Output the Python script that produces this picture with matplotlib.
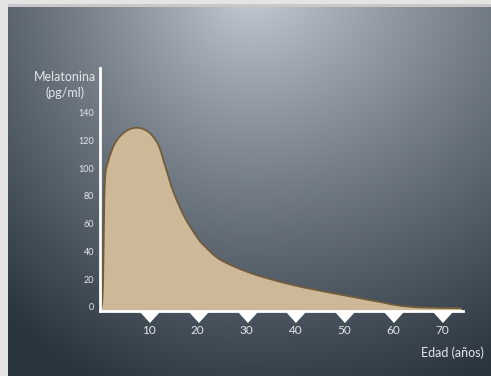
import numpy as np
import matplotlib
matplotlib.use("Agg")
from matplotlib import pyplot as plt
from matplotlib import transforms
from matplotlib.path import Path
from matplotlib.patches import PathPatch

# Curve: age (years) vs melatonin (pg/ml)
edad = [0, 0.5, 0.7, 1.0, 1.7, 3.1, 5.1, 7.5, 9.9, 11.9, 13.3, 15.0, 17.4,
        20.1, 21.5, 24.6, 30.7, 38.9, 47.7, 57.3, 61.4, 66.0, 74.0]
melatonina = [0, 8, 38, 93, 108, 121, 129, 132, 129, 120, 105, 86, 67,
              52, 46.5, 37, 27.5, 19.2, 12.8, 6.5, 3.8, 2.5, 2.0]
y_ticks = [0, 20, 40, 60, 80, 100, 120, 140]
x_ticks = [10, 20, 30, 40, 50, 60, 70]

W, H = 491, 376
fig = plt.figure(figsize=(W / 100, H / 100), dpi=100)

# background: light frame on top/left, slate panel with elliptical gradient
yy, xx = np.mgrid[0:H, 0:W]
cx = 250
rx = np.where(xx < cx, 380.0, 500.0)
d = np.sqrt(((xx - cx) / rx) ** 2 + ((yy + 20) / 440.0) ** 2)
t = np.clip(d, 0, 1.0) ** 0.8
light = np.array([205, 214, 222]) / 255.0
dark = np.array([42, 52, 63]) / 255.0
img = light[None, None, :] * (1 - t[..., None]) + dark[None, None, :] * t[..., None]
frame = np.array([228, 228, 228]) / 255.0
img[:7, :, :] = np.array([200, 200, 200]) / 255.0
img[:4, :, :] = frame
img[:, :8, :] = frame
bg = fig.add_axes([0, 0, 1, 1])
bg.imshow(img, aspect="auto", interpolation="bilinear")
bg.axis("off")

ax = fig.add_axes([100 / W, (H - 311) / H, 363 / W, 243 / H])
ax.patch.set_alpha(0)
ax.set_xlim(0, 74.3)
ax.set_ylim(0, 175)

# smooth curve through the read points (Catmull-Rom drawn as cubic Beziers)
pts = ax.transData.transform(np.column_stack([edad, melatonina]))
verts = [pts[0]]
codes = [Path.MOVETO]
n = len(pts)
for i in range(n - 1):
    p0 = pts[max(i - 1, 0)]
    p1 = pts[i]
    p2 = pts[i + 1]
    p3 = pts[min(i + 2, n - 1)]
    verts += [p1 + (p2 - p0) / 6.0, p2 - (p3 - p1) / 6.0, p2]
    codes += [Path.CURVE4] * 3
line_path = Path(verts, codes)
base = ax.transData.transform([(edad[-1], 0), (edad[0], 0)])
fill_path = Path(list(verts) + [base[0], base[1], verts[0]],
                 codes + [Path.LINETO, Path.LINETO, Path.CLOSEPOLY])
ax.add_patch(PathPatch(fill_path, transform=None, fc="#cdb898", ec="none", zorder=2))
ax.add_patch(PathPatch(line_path, transform=None, fc="none", ec="#715c3c",
                       lw=1.3, zorder=3))

for s in ["top", "right"]:
    ax.spines[s].set_visible(False)
for s in ["left", "bottom"]:
    ax.spines[s].set_color("white")
    ax.spines[s].set_linewidth(2)
    ax.spines[s].set_zorder(4)

tri = [(-10, 0), (10, 0), (0, -11)]
ax.plot(x_ticks, [0] * len(x_ticks), ls="none", marker=tri, ms=15.8,
        color="white", mec="white", clip_on=False, zorder=5)

font = "Lato"
txt = "#e2e7eb"
ax.set_yticks(y_ticks)
ax.set_yticklabels([str(v) for v in y_ticks])
ax.set_xticks(x_ticks)
ax.set_xticklabels([str(v) for v in x_ticks])
ax.tick_params(axis="y", length=0, pad=4, labelsize=6.5, labelcolor=txt)
ax.tick_params(axis="x", length=0, pad=10, labelsize=8.5, labelcolor=txt)
shift = transforms.ScaledTranslation(0, 4 / 100, fig.dpi_scale_trans)
for lab in ax.get_yticklabels():
    lab.set_transform(lab.get_transform() + shift)
    lab.set_fontfamily(font)
for lab in ax.get_xticklabels():
    lab.set_fontfamily(font)

fig.text(65 / W, 1 - 77 / H, "Melatonina", ha="center", va="center",
         color=txt, fontsize=9, family=font)
fig.text(65 / W, 1 - 93 / H, "(pg/ml)", ha="center", va="center",
         color=txt, fontsize=9, family=font)
fig.text(452 / W, 1 - 353 / H, "Edad (años)", ha="center", va="center",
         color=txt, fontsize=9, family=font)

fig.savefig("out.png", dpi=100)
